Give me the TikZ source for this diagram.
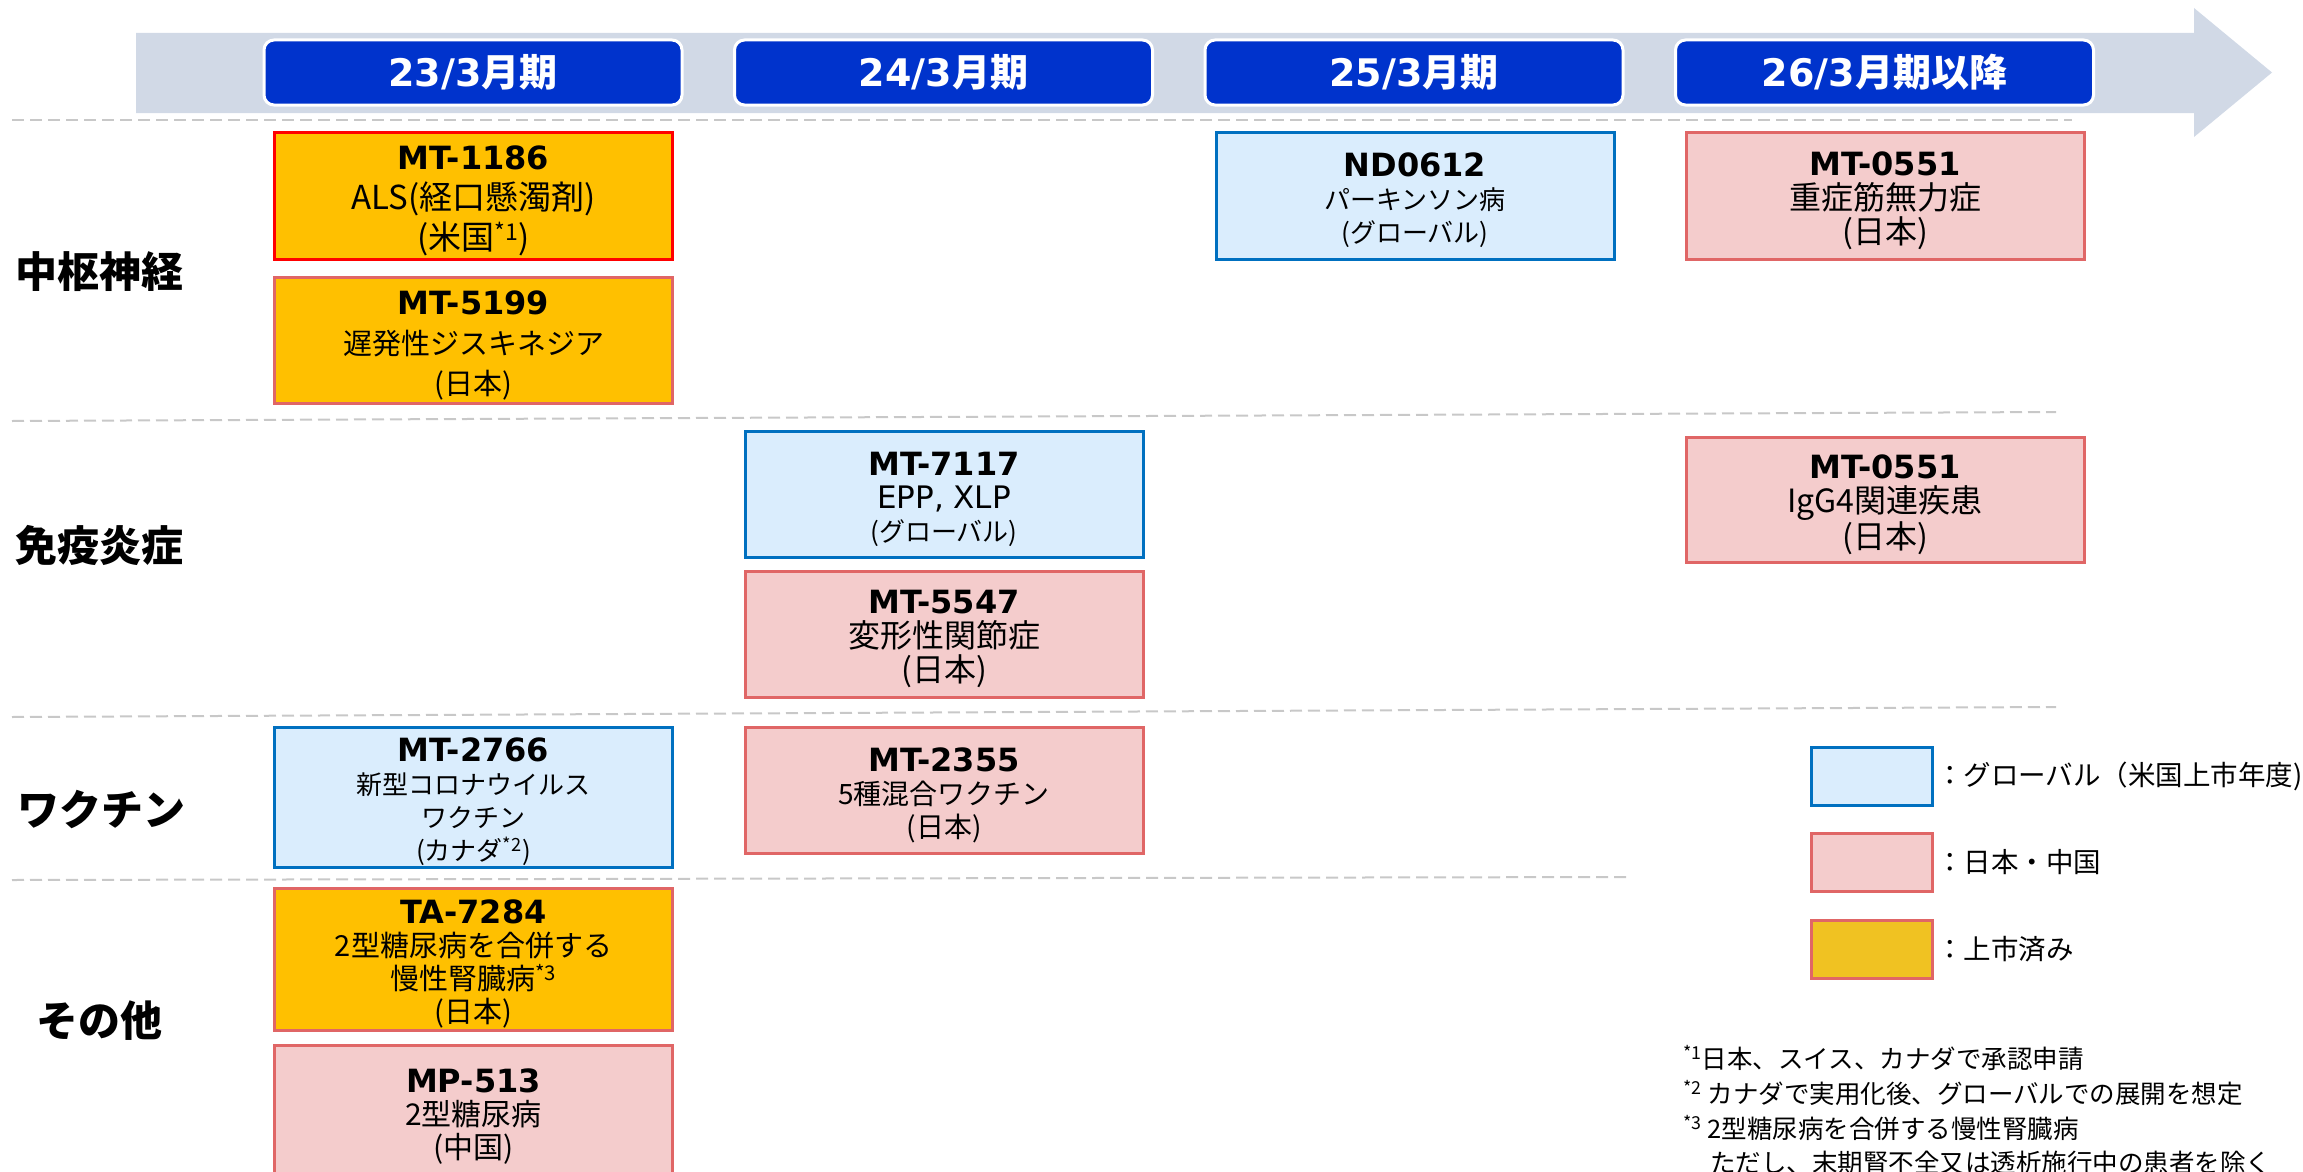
\documentclass[tikz,border=0pt]{standalone}
\usepackage{fontspec}
\setmainfont{Noto Sans CJK JP}
\newfontfamily\latf{DejaVu Sans}

\definecolor{bandgray}{HTML}{D1D9E6}
\definecolor{periodblue}{HTML}{0033CC}
\definecolor{globfill}{HTML}{DAEDFD}
\definecolor{globline}{HTML}{0070C0}
\definecolor{jpfill}{HTML}{F4CCCC}
\definecolor{jpline}{HTML}{E06666}
\definecolor{donefill}{HTML}{FFC000}
\definecolor{doneleg}{HTML}{F0C222}
\definecolor{sepgray}{HTML}{C8C8C8}

\newcommand\bodyfont[2]{\fontsize{#1}{#2}\selectfont}
\newcommand\drugname[1]{{\latf\bfseries\fontsize{32}{33}\selectfont\rule{0pt}{33pt}#1}}

\begin{document}
\begin{tikzpicture}[x=1pt,y=-1pt,
periodbox/.style={rectangle,rounded corners=10pt,fill=periodblue,draw=white,line width=3pt,
  minimum width=418,minimum height=65,text=white,font=\bfseries\bodyfont{38}{40}},
drugbox/.style={rectangle,line width=3pt,minimum width=398,align=center,inner sep=0pt},
globbox/.style={drugbox,fill=globfill,draw=globline},
jpbox/.style={drugbox,fill=jpfill,draw=jpline},
donebox/.style={drugbox,fill=donefill,draw=jpline},
fieldlabel/.style={font=\bfseries\bodyfont{42}{46}},
sepline/.style={draw=sepgray,line width=2pt,dash pattern=on 12pt off 6pt},
legendbox/.style={rectangle,line width=3pt,minimum width=121,minimum height=58},
legendtext/.style={anchor=west,inner sep=0pt,font=\bodyfont{27.5}{30}},
notetext/.style={anchor=west,inner sep=0pt,font=\bodyfont{25.5}{30}}]
\useasboundingbox (0,0) rectangle (2303,1172);
\clip (0,0) rectangle (2303,1172);

% time band
\fill[bandgray] (136,33) -- (2194,33) -- (2194,8) -- (2272,72.5) -- (2194,137) -- (2194,113) -- (136,113) -- cycle;
\node[periodbox] (p23) at (473,72.5) {{\latf 23/3}月期};
\node[periodbox] (p24) at (943.5,72.5) {{\latf 24/3}月期};
\node[periodbox] (p25) at (1414,72.5) {{\latf 25/3}月期};
\node[periodbox] (p26) at (1884.5,72.5) {{\latf 26/3}月期以降};

% separators
\draw[sepline] (12,120) -- (2072,120);
\draw[sepline] (12,421) -- (2056,412);
\draw[sepline] (12,717) -- (2056,707);
\draw[sepline] (12,880) -- (1630,877);

% fields
\node[fieldlabel] (cns) at (100,272) {中枢神経};
\node[fieldlabel] (immuno) at (100,545) {免疫炎症};
\node[fieldlabel] (vaccine) at (101,809) {ワクチン};
\node[fieldlabel] (other) at (99,1021) {その他};

% pipeline
\node[donebox,draw=red,minimum height=127,font=\bodyfont{33}{40}] (mt1186) at (473.5,196) {\drugname{MT-1186}\\ALS(経口懸濁剤)\\(米国\textsuperscript{*1})};
\node[donebox,minimum height=126,font=\bodyfont{29}{40}] (mt5199) at (473.5,340.5) {\drugname{MT-5199}\\遅発性ジスキネジア\\(日本)};
\node[globbox,minimum height=127,font=\bodyfont{26}{33}] (nd0612) at (1415,196) {\drugname{ND0612}\\パーキンソン病\\(グローバル)};
\node[jpbox,minimum height=127,font=\bodyfont{32}{34}] (mt0551a) at (1885,196) {\drugname{MT-0551}\\重症筋無力症\\(日本)};
\node[globbox,minimum height=126,font=\bodyfont{26}{33}] (mt7117) at (944,494.5) {\drugname{MT-7117}\\{\latf\fontsize{31}{33}\selectfont EPP, XLP}\\(グローバル)};
\node[jpbox,minimum height=126,font=\bodyfont{32}{34}] (mt5547) at (944,634.5) {\drugname{MT-5547}\\変形性関節症\\(日本)};
\node[jpbox,minimum height=125,font=\bodyfont{32}{34}] (mt0551b) at (1885,500) {\drugname{MT-0551}\\IgG4関連疾患\\(日本)};
\node[globbox,minimum height=140,font=\bodyfont{26}{33}] (mt2766) at (473.5,797.5) {\drugname{MT-2766}\\新型コロナウイルス\\ワクチン\\(カナダ\textsuperscript{*2})};
\node[jpbox,minimum height=126,font=\bodyfont{28}{33}] (mt2355) at (944,790.5) {\drugname{MT-2355}\\5種混合ワクチン\\(日本)};
\node[donebox,minimum height=142,font=\bodyfont{29}{33}] (ta7284) at (473.5,959.5) {\drugname{TA-7284}\\2型糖尿病を合併する\\慢性腎臓病\textsuperscript{*3}\\(日本)};
\node[jpbox,minimum height=133,font=\bodyfont{30}{33}] (mp513) at (473.5,1112) {\drugname{MP-513}\\2型糖尿病\\(中国)};

% legend
\node[legendbox,fill=globfill,draw=globline] (lgglob) at (1872,776.5) {};
\node[legendbox,fill=jpfill,draw=jpline] (lgjp) at (1872,862.5) {};
\node[legendbox,fill=doneleg,draw=jpline] (lgdone) at (1872,949) {};
\node[legendtext] (tglob) at (1936,776.5) {：グローバル（米国上市年度)};
\node[legendtext] (tjp) at (1936,862.5) {：日本・中国};
\node[legendtext] (tdone) at (1936,949) {：上市済み};

% notes
\node[notetext] (note1) at (1683,1058) {\textsuperscript{*1}日本、スイス、カナダで承認申請};
\node[notetext] (note2) at (1683,1093) {\textsuperscript{*2} カナダで実用化後、グローバルでの展開を想定};
\node[notetext] (note3) at (1683,1128) {\textsuperscript{*3} 2型糖尿病を合併する慢性腎臓病};
\node[notetext] (note4) at (1710,1163) {ただし、末期腎不全又は透析施行中の患者を除く};
\end{tikzpicture}
\end{document}
